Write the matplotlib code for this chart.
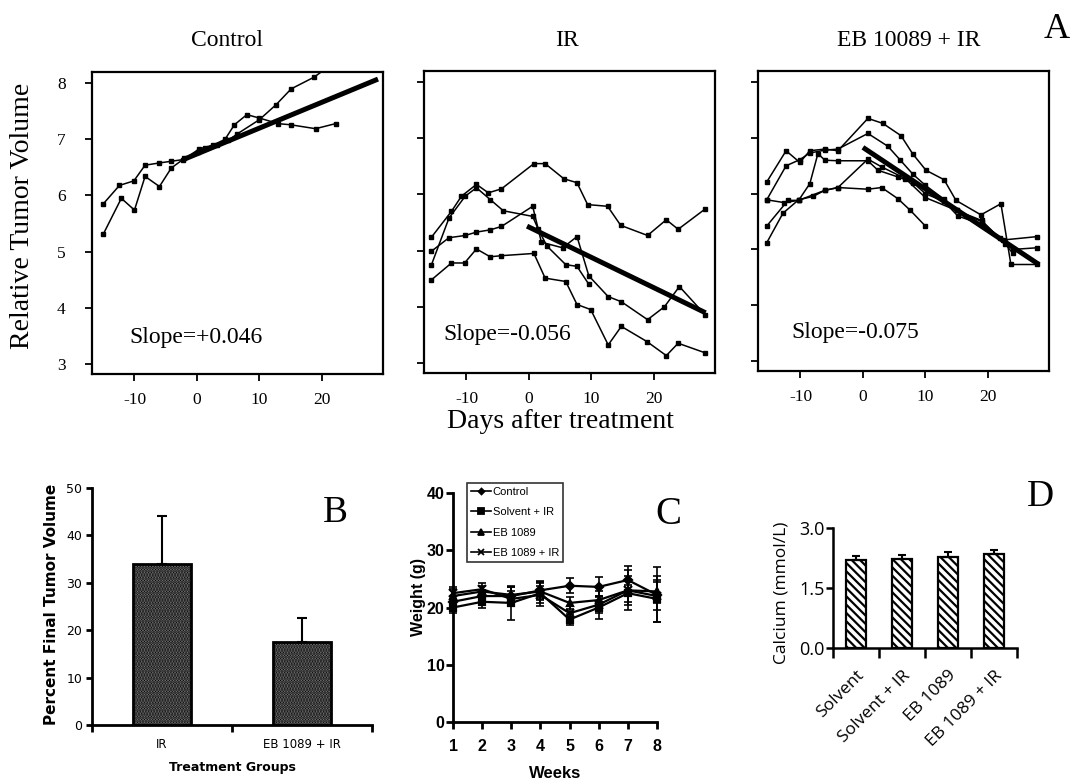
import matplotlib.pyplot as plt
from matplotlib.lines import Line2D
import numpy as np

plt.rcParams["font.family"] = "Liberation Serif"
plt.rcParams["hatch.linewidth"] = 1.6
plt.rcParams["axes.unicode_minus"] = False

W, H = 1073, 783

# ---------------- panel A : relative tumour volume vs day ----------------
ctrl_a_day = [-15, -12.4, -10.1, -8.3, -6, -4.1, -2.2, 0.4, 2.6, 4.5, 6, 8, 10, 13, 15, 19, 22.2]
ctrl_a_vol = [5.85, 6.18, 6.26, 6.54, 6.58, 6.61, 6.64, 6.83, 6.9, 7.0, 7.26, 7.44, 7.38, 7.28, 7.26, 7.19, 7.28]
ctrl_b_day = [-15, -12.1, -10, -8.3, -6, -4.1, -2, 0.2, 1.3, 3.2, 5, 6.5, 10, 12.7, 15.1, 18.8, 20.5]
ctrl_b_vol = [5.31, 5.95, 5.74, 6.34, 6.16, 6.49, 6.66, 6.78, 6.85, 6.9, 6.98, 7.1, 7.35, 7.62, 7.9, 8.11, 8.25]

ir_a_day = [-15.6, -12.4, -10.8, -8.4, -6.5, -4.4, 0.8, 2.6, 5.6, 7.7, 9.4, 12.6, 14.7, 19, 22, 23.9, 28.2]
ir_a_vol = [5.24, 5.70, 5.97, 6.18, 6.03, 6.10, 6.55, 6.55, 6.28, 6.21, 5.82, 5.79, 5.45, 5.27, 5.55, 5.38, 5.74]
ir_b_day = [-15.6, -12.8, -10.2, -8.4, -6.2, -4.4, 0.6, 2.0, 5.4, 7.7, 9.6, 12.7, 14.8, 19, 21.7, 24.1, 28.2]
ir_b_vol = [4.99, 5.23, 5.27, 5.33, 5.37, 5.43, 5.79, 5.15, 5.05, 5.25, 4.55, 4.18, 4.09, 3.77, 4.0, 4.36, 3.86]
ir_c_day = [-15.6, -12.8, -10.2, -8.4, -6.2, -4.1, 0.6, 1.5, 2.9, 5.9, 7.7, 9.6]
ir_c_vol = [4.75, 5.58, 5.97, 6.12, 5.91, 5.71, 5.61, 5.38, 5.08, 4.75, 4.72, 4.40]
ir_d_day = [-15.6, -12.4, -10.3, -8.4, -6.2, -4.4, 0.8, 2.6, 5.9, 7.7, 9.9, 12.7, 14.8, 18.9, 22, 23.9, 28.2]
ir_d_vol = [4.48, 4.78, 4.78, 5.03, 4.89, 4.91, 4.95, 4.51, 4.45, 4.04, 3.95, 3.32, 3.65, 3.38, 3.13, 3.35, 3.18]

eb_a_day = [-15.4, -12.3, -10.1, -8.5, -6.1, -4, 0.8, 3.2, 6.1, 8, 10.1, 13, 14.9, 18.9, 22.1, 23.7, 27.9]
eb_a_vol = [6.21, 6.77, 6.56, 6.77, 6.80, 6.77, 7.35, 7.26, 7.04, 6.71, 6.42, 6.25, 5.88, 5.62, 5.82, 4.73, 4.73]
eb_b_day = [-15.4, -12.3, -10.1, -8.5, -6.1, -4, 0.8, 4, 6, 8, 10, 13, 15, 19, 22, 24, 27.9]
eb_b_vol = [5.89, 6.5, 6.61, 6.73, 6.78, 6.8, 7.08, 6.85, 6.6, 6.35, 6.15, 5.9, 5.7, 5.5, 5.2, 5.0, 5.03]
eb_c_day = [-15.4, -12, -10.3, -8.5, -7.2, -6.1, -4, 0.8, 2.4, 5.6, 8, 10, 13, 15.2, 19, 22.5, 27.9]
eb_c_vol = [5.42, 5.88, 5.88, 6.18, 6.72, 6.6, 6.59, 6.59, 6.42, 6.3, 6.2, 6.0, 5.86, 5.6, 5.45, 5.17, 5.23]
eb_d_day = [-15.4, -12.8, -10.3, -8, -6.1, -4, 0.8, 3, 6.8, 10, 15, 19, 22.8, 24]
eb_d_vol = [5.12, 5.65, 5.89, 5.95, 6.06, 6.11, 6.62, 6.48, 6.27, 5.93, 5.7, 5.52, 5.1, 4.93]
eb_e_day = [-15.4, -12.6, -10.3, -6.1, -4, 0.8, 3, 5.6, 7.6, 10]
eb_e_vol = [5.89, 5.84, 5.88, 6.06, 6.11, 6.08, 6.11, 5.91, 5.70, 5.42]

# regression fits: slope, intercept, first day, last day
ctrl_fit = (0.046, 6.74, -2, 29)
ir_fit = (-0.054, 5.42, -0.3, 28.3)
eb_fit = (-0.0745, 6.83, 0, 28.2)

# ---------------- panel B : percent final tumour volume ----------------
groups_b = ["IR", "EB 1089 + IR"]
final_vol = [34, 17.5]
final_err = [10, 5]

# ---------------- panel C : body weight ----------------
weeks = [1, 2, 3, 4, 5, 6, 7, 8]
control_wt = [21.0, 22.0, 22.0, 23.0, 23.8, 23.6, 24.8, 22.2]
control_err = [1.0, 1.0, 1.5, 1.5, 1.3, 1.7, 2.5, 4.8]
solv_ir_wt = [20.0, 21.0, 20.8, 22.5, 17.9, 20.0, 22.5, 21.5]
solv_ir_err = [1.0, 1.0, 3.0, 2.2, 1.0, 2.0, 1.5, 4.0]
eb_wt = [22.0, 22.8, 22.2, 22.8, 20.8, 21.3, 23.0, 22.8]
eb_wt_err = [1.2, 1.0, 1.4, 1.5, 1.0, 1.5, 3.5, 2.0]
eb_ir_wt = [22.5, 23.2, 21.5, 22.2, 19.0, 20.5, 23.0, 22.0]
eb_ir_err = [1.0, 1.0, 1.3, 1.5, 1.2, 1.5, 2.5, 2.5]

# ---------------- panel D : serum calcium ----------------
groups_d = ["Solvent", "Solvent + IR", "EB 1089", "EB 1089 + IR"]
calcium = [2.21, 2.22, 2.28, 2.36]
calcium_err = [0.08, 0.10, 0.12, 0.10]


def px_rect(left, top, right, bottom):
    return [left / W, 1 - bottom / H, (right - left) / W, (bottom - top) / H]


fig = plt.figure(figsize=(W / 100, H / 100), dpi=100)


def growth_panel(rect, series, fit, slope_text, text_xy, ylabels):
    ax = fig.add_axes(px_rect(*rect))
    for d, v in series:
        ax.plot(d, v, color="black", lw=1.1, marker="s", ms=2.6)
    s, b, d0, d1 = fit
    xs = np.array([d0, d1])
    ax.plot(xs, b + s * xs, color="black", lw=3.6, solid_capstyle="butt")
    ax.set_xlim(-16.8, 29.8)
    ax.set_ylim(2.82, 8.2)
    ax.set_xticks([-10, 0, 10, 20])
    ax.set_yticks(range(3, 9))
    if not ylabels:
        ax.set_yticklabels([])
    ax.tick_params(direction="out", length=5, width=1.3, labelsize=12.5)
    ax.tick_params(axis="x", pad=8)
    ax.tick_params(axis="y", pad=14)
    for sp in ax.spines.values():
        sp.set_linewidth(1.6)
    ax.text(text_xy[0], text_xy[1], slope_text, transform=ax.transAxes,
            fontsize=17, va="center", ha="left")
    return ax


growth_panel((92, 72, 383, 374), [(ctrl_a_day, ctrl_a_vol), (ctrl_b_day, ctrl_b_vol)],
             ctrl_fit, "Slope=+0.046", (0.13, 0.12), True)
growth_panel((424, 71, 715, 373),
             [(ir_a_day, ir_a_vol), (ir_b_day, ir_b_vol), (ir_c_day, ir_c_vol), (ir_d_day, ir_d_vol)],
             ir_fit, "Slope=-0.056", (0.065, 0.126), False)
growth_panel((758, 71, 1049, 371),
             [(eb_a_day, eb_a_vol), (eb_b_day, eb_b_vol), (eb_c_day, eb_c_vol),
              (eb_d_day, eb_d_vol), (eb_e_day, eb_e_vol)],
             eb_fit, "Slope=-0.075", (0.113, 0.13), False)

fig.text(227 / W, 1 - 40 / H, "Control", fontsize=17, ha="center", va="center")
fig.text(567 / W, 1 - 40 / H, "IR", fontsize=17, ha="center", va="center")
fig.text(909 / W, 1 - 40 / H, "EB 10089 + IR", fontsize=17, ha="center", va="center")
fig.text(1057 / W, 1 - 30 / H, "A", fontsize=26, ha="center", va="center")
fig.text(23 / W, 1 - 216 / H, "Relative Tumor Volume", fontsize=20, rotation=90,
         ha="center", va="center")
fig.text(560 / W, 1 - 421 / H, "Days after treatment", fontsize=20, ha="center", va="center")

# ---------------- panel B ----------------
sans = "DejaVu Sans"
axb = fig.add_axes(px_rect(92, 488, 372, 725))
pos_b = np.arange(len(groups_b)) + 0.5
axb.bar(pos_b, final_vol, width=0.41, color="#8c8c8c", edgecolor="black",
        hatch="......", lw=2)
axb.errorbar(pos_b, final_vol, yerr=[np.zeros(len(final_err)), final_err], fmt="none",
             ecolor="black", elinewidth=1.5, capsize=3.5, capthick=1.5)
axb.set_xlim(0, 2)
axb.set_ylim(0, 50)
axb.spines[["top", "right"]].set_visible(False)
axb.spines[["left", "bottom"]].set_linewidth(2)
axb.set_xticks([0, 1, 2])
axb.set_xticklabels([])
axb.set_xticks(pos_b, minor=True)
axb.set_xticklabels(groups_b, minor=True, fontsize=8.5, family=sans)
axb.tick_params(axis="x", which="minor", length=0, pad=9)
axb.tick_params(axis="x", which="major", length=5, width=2)
axb.set_yticks(range(0, 51, 10))
axb.tick_params(axis="y", length=4, width=2, pad=3, labelsize=9)
for t in axb.get_yticklabels():
    t.set_family(sans)
fig.text(52 / W, 1 - 604 / H, "Percent Final Tumor Volume", fontsize=11, fontweight="bold",
         family=sans, rotation=90, ha="center", va="center")
fig.text(232 / W, 1 - 768 / H, "Treatment Groups", fontsize=9, fontweight="bold",
         family=sans, ha="center", va="center")
fig.text(335 / W, 1 - 513 / H, "B", fontsize=27, ha="center", va="center")

# ---------------- panel C ----------------
narrow = ["Liberation Sans Narrow", "Liberation Sans"]
axc = fig.add_axes(px_rect(453, 493, 657, 722))
styles = [("Control", control_wt, control_err, "D", 4),
          ("Solvent + IR", solv_ir_wt, solv_ir_err, "s", 5),
          ("EB 1089", eb_wt, eb_wt_err, "^", 5),
          ("EB 1089 + IR", eb_ir_wt, eb_ir_err, "x", 6)]
handles = []
for label, wt, err, mk, ms in styles:
    axc.errorbar(weeks, wt, yerr=err, fmt="none", ecolor="black",
                 elinewidth=1.2, capsize=3, capthick=1.2, clip_on=False)
    axc.plot(weeks, wt, color="black", lw=1.6, marker=mk, ms=ms, mew=1.6, clip_on=False)
    handles.append(Line2D([], [], color="black", lw=1.2, marker=mk, ms=ms - 1, mew=1.3,
                          label=label))
axc.set_xlim(1, 8)
axc.set_ylim(0, 40)
axc.spines[["top", "right"]].set_visible(False)
axc.spines[["left", "bottom"]].set_linewidth(2)
axc.set_xticks(weeks)
axc.set_yticks(range(0, 41, 10))
axc.tick_params(length=5, width=2, labelsize=11.5)
axc.tick_params(axis="x", pad=7)
axc.tick_params(axis="y", pad=1)
for t in axc.get_xticklabels() + axc.get_yticklabels():
    t.set_family(narrow)
    t.set_fontweight("bold")
leg = axc.legend(handles=handles, loc="upper left", bbox_to_anchor=(0.07, 1.045), frameon=True,
                 fancybox=False, edgecolor="black", handlelength=1.8, handletextpad=0.15,
                 labelspacing=0.95, borderpad=0.35, borderaxespad=0,
                 prop={"family": narrow, "size": 8})
leg.get_frame().set_linewidth(1.2)
fig.text(419 / W, 1 - 597 / H, "Weight (g)", fontsize=11.5, fontweight="bold", family=narrow,
         rotation=90, ha="center", va="center")
fig.text(555 / W, 1 - 773 / H, "Weeks", fontsize=12, fontweight="bold", family=narrow,
         ha="center", va="center")
fig.text(668 / W, 1 - 515 / H, "C", fontsize=28, ha="center", va="center")

# ---------------- panel D ----------------
open_sans = "Open Sans"
axd = fig.add_axes(px_rect(833, 528, 1017, 648))
pos_d = np.arange(len(groups_d)) + 0.5
axd.bar(pos_d, calcium, width=0.43, color="white", edgecolor="black", hatch="\\\\\\\\", lw=1.6)
axd.errorbar(pos_d, calcium, yerr=[np.zeros(len(calcium_err)), calcium_err], fmt="none",
             ecolor="black", elinewidth=1.5, capsize=3, capthick=1.5)
axd.set_xlim(0, 4)
axd.set_ylim(0, 3)
axd.spines[["top", "right"]].set_visible(False)
axd.spines[["left", "bottom"]].set_linewidth(1.8)
axd.set_xticks(range(5))
axd.set_xticklabels([])
axd.set_xticks(pos_d, minor=True)
axd.set_xticklabels(groups_d, minor=True, rotation=45, ha="right", rotation_mode="anchor",
                    fontsize=12.5, family=open_sans)
axd.tick_params(axis="x", which="minor", length=0, pad=14)
axd.tick_params(axis="x", which="major", length=7, width=1.8)
axd.set_yticks([0, 1.5, 3.0])
axd.set_yticklabels(["0.0", "1.5", "3.0"], fontsize=13, family=open_sans)
axd.tick_params(axis="y", length=5, width=1.8, pad=1)
fig.text(782 / W, 1 - 593 / H, "Calcium (mmol/L)", fontsize=12.5, family=open_sans,
         rotation=90, ha="center", va="center")
fig.text(1040 / W, 1 - 497 / H, "D", fontsize=27, ha="center", va="center")

fig.savefig("out.png", dpi=100)
